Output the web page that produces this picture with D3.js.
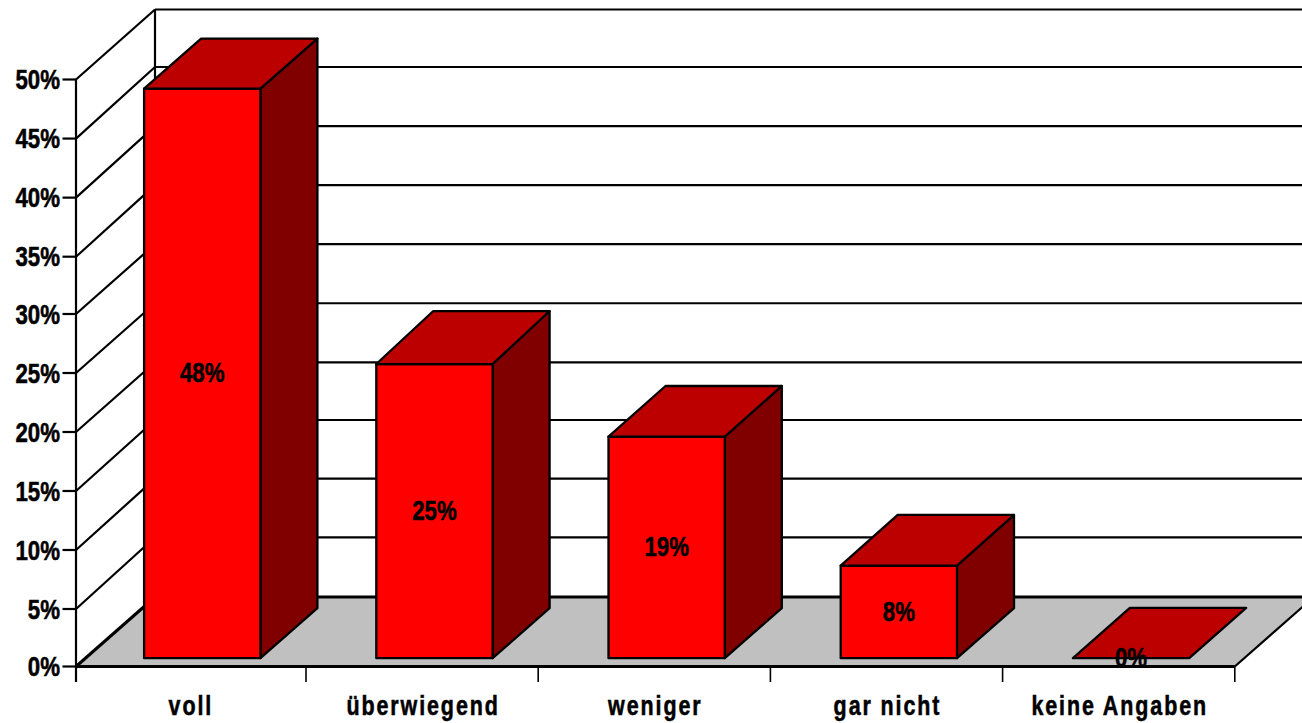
<!DOCTYPE html>
<html><head><meta charset="utf-8">
<style>html,body{margin:0;padding:0;background:#fff;overflow:hidden}svg{display:block}
text{font-family:"Liberation Sans",Arial,sans-serif;font-weight:700;fill:#000;stroke:#000;stroke-width:0.55px}</style>
</head><body><svg id="c" width="1302" height="723"></svg>
<script src="https://cdn.jsdelivr.net/npm/d3@7"></script>
<script>
const categories = ["voll","überwiegend","weniger","gar nicht","keine Angaben"];
const values = [48.6,25.1,18.9,7.9,0];
const valueLabels = ["48%","25%","19%","8%","0%"];
const yTicks = [0,5,10,15,20,25,30,35,40,45,50];

const W=1302, depthX=79, barDX=57, barW=116.3, barInset=70.3, baseY=658.2, narrow=0.795;
const topDepth=[50,53,50.7,50.7,50.3];
const svg=d3.select("#c");
// axis scales, calibrated to the source's slightly uneven tick spacing
const yFront=d3.scaleLinear().domain([0,5,30,35,50]).range([666.5,609,314,256.7,79.5]);
const yBack=d3.scaleLinear().domain([0,5,15,20,45,50]).range([597,537.3,420,362.3,67,9.5]);
const yBar=d3.scaleLinear().domain([0,50]).range([baseY,baseY-586]);
const x=d3.scaleBand().domain(categories).range([73.8,1234.8]);
const left=76;
const poly=(pts,fill,sw=2.3)=>svg.append("polygon").attr("points",pts.map(p=>p.join(",")).join(" "))
  .attr("fill",fill).attr("stroke","#000").attr("stroke-width",sw).attr("stroke-linejoin","round");
const line=(x1,y1,x2,y2,sw=2.2)=>svg.append("line").attr("x1",x1).attr("y1",y1).attr("x2",x2).attr("y2",y2)
  .attr("stroke","#000").attr("stroke-width",sw);

// floor
svg.append("polygon").attr("points",[[left,yFront(0)],[left+depthX,yBack(0)],[x.range()[1]+depthX,yBack(0)],[x.range()[1],yFront(0)]].map(p=>p.join(",")).join(" ")).attr("fill","#c0c0c0");
// walls + grid
yTicks.forEach(t=>{
  line(left,yFront(t),left+depthX,yBack(t),t===0?3:2.2);
  line(left+depthX,yBack(t),W,yBack(t),t===0?3:2.2);
  line(62.5,yFront(t),left,yFront(t),2.2);
});
line(left+depthX,yBack(50),left+depthX,yBack(0),2.2);
line(left,yFront(50),left,yFront(0),2.2);
line(left,yFront(0),x.range()[1],yFront(0),3);
line(x.range()[1],yFront(0),x.range()[1]+depthX,yBack(0),2.2);
// category ticks
categories.concat([null]).forEach((c,i)=>{
  const tx=Math.max(left,x.range()[0]+i*x.step());
  line(tx,yFront(0),tx,682,i===0?2.2:1.6);
});
// bars
categories.forEach((c,i)=>{
  const x0=x(c)+barInset, x1=x0+barW, top=yBar(values[i]), d=topDepth[i];
  if(values[i]>0){
    poly([[x1,baseY],[x1+barDX,baseY-50],[x1+barDX,top-d],[x1,top]],"#800000");
    poly([[x0,baseY],[x1,baseY],[x1,top],[x0,top]],"#ff0000");
  }
  poly([[x0,top],[x1,top],[x1+barDX,top-d],[x0+barDX,top-d]],"#bc0000");
});
// labels
const label=(tx,ty,anchor,size,str,sp)=>svg.append("text")
  .attr("transform",`translate(${tx},${ty}) scale(${narrow},1)`)
  .attr("text-anchor",anchor).style("font-size",size+"px").style("letter-spacing",sp?sp+"px":null).text(str);
yTicks.forEach(t=>label(60,yFront(t)+9.5,"end",28,t+"%"));
categories.forEach(c=>label(x(c)+x.step()/2+1,715,"middle",27,c,2.4));
values.forEach((v,i)=>label(x(categories[i])+barInset+barW/2,(baseY+yBar(v))/2+9,"middle",28,valueLabels[i]));
</script></body></html>
